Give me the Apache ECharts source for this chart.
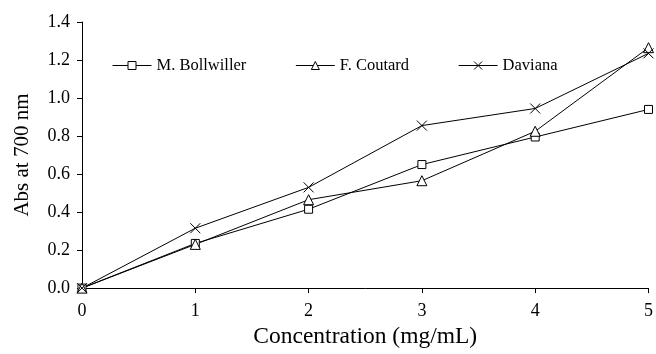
<!DOCTYPE html>
<html>
<head>
<meta charset="utf-8">
<script src="https://cdn.jsdelivr.net/npm/echarts@6/dist/echarts.min.js"></script>
<style>
  html, body { margin: 0; padding: 0; background: #fff; }
  #chart { width: 656px; height: 354px; }
</style>
</head>
<body>
<div id="chart"></div>
<script>
const concentrations = [0, 1, 2, 3, 4, 5];
const bollwiller = [0, 0.235, 0.415, 0.65, 0.795, 0.94];
const coutard = [0, 0.23, 0.465, 0.565, 0.825, 1.265];
const daviana = [0, 0.315, 0.53, 0.855, 0.945, 1.235];
const seriesNames = ['M. Bollwiller', 'F. Coutard', 'Daviana'];

const font = 'Liberation Serif';
const crossPath = 'path://M0,0L10,10M10,0L0,10';

function pairs(values) {
  return concentrations.map((x, i) => [x, values[i]]);
}

function makeSeries(name, values, symbol, size) {
  return {
    name: name,
    type: 'line',
    data: pairs(values),
    symbol: symbol,
    symbolSize: size,
    showAllSymbol: true,
    lineStyle: { color: '#000', width: 1 },
    itemStyle: { color: '#fff', borderColor: '#000', borderWidth: 1 },
    emphasis: { disabled: true },
  };
}

const chart = echarts.init(document.getElementById('chart'));
chart.setOption({
  animation: false,
  backgroundColor: '#fff',
  textStyle: { fontFamily: font, color: '#000' },
  grid: { left: 82, right: 6, top: 22, bottom: 60 },
  legend: {
    top: 57,
    left: 112,
    padding: 0,
    itemGap: 49,
    itemWidth: 39,
    itemHeight: 10,
    lineStyle: { width: 1, color: '#000' },
    itemStyle: { color: '#fff', borderColor: '#000', borderWidth: 1 },
    textStyle: { fontFamily: font, fontSize: 16.5, color: '#000' },
    data: seriesNames,
  },
  xAxis: {
    type: 'value',
    min: 0,
    max: 5,
    interval: 1,
    name: 'Concentration (mg/mL)',
    nameLocation: 'middle',
    nameGap: 36,
    nameTextStyle: { fontFamily: font, fontSize: 23.5, color: '#000' },
    axisLine: { lineStyle: { color: '#000', width: 1 } },
    axisTick: { show: true, length: 5, lineStyle: { color: '#000' } },
    axisLabel: { fontFamily: font, fontSize: 18, color: '#000', margin: 14 },
    splitLine: { show: false },
  },
  yAxis: {
    type: 'value',
    min: 0,
    max: 1.4,
    interval: 0.2,
    name: 'Abs at 700 nm',
    nameLocation: 'middle',
    nameGap: 49,
    nameTextStyle: { fontFamily: font, fontSize: 21, color: '#000' },
    axisLine: { show: true, lineStyle: { color: '#000', width: 1 } },
    axisTick: { show: true, length: 5, lineStyle: { color: '#000' } },
    axisLabel: {
      fontFamily: font, fontSize: 18, color: '#000', margin: 12,
      formatter: (v) => v.toFixed(1),
    },
    splitLine: { show: false },
  },
  series: [
    makeSeries(seriesNames[0], bollwiller, 'rect', 8),
    makeSeries(seriesNames[1], coutard, 'triangle', 10),
    makeSeries(seriesNames[2], daviana, crossPath, 10),
  ],
});
</script>
</body>
</html>
